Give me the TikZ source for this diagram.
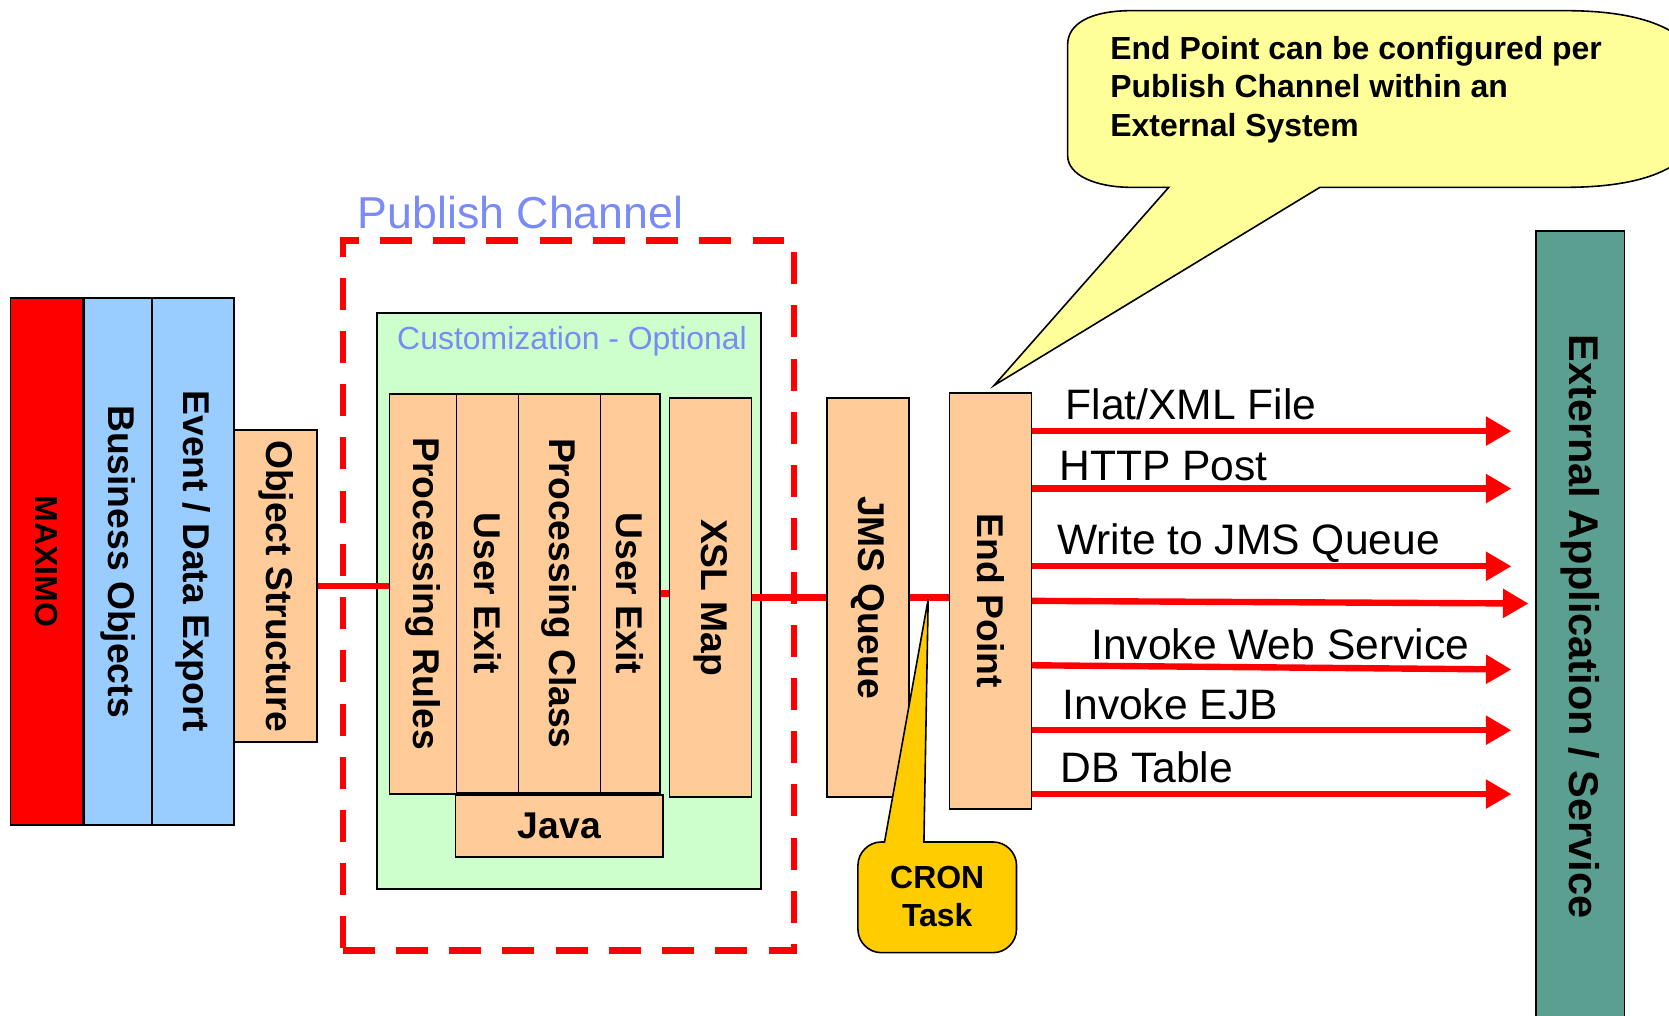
\documentclass[tikz,border=0pt]{standalone}
\usepackage{fontspec}
\setmainfont{Liberation Sans}
\usetikzlibrary{arrows.meta,calc}
\definecolor{peach}{HTML}{FFCC99}
\definecolor{lblue}{HTML}{99CCFF}
\definecolor{lgreen}{HTML}{CCFFCC}
\definecolor{tealbox}{HTML}{5A9F90}
\definecolor{bub}{HTML}{FFFF99}
\definecolor{gold}{HTML}{FFCC00}
\definecolor{pblue}{HTML}{7A8BF7}
\definecolor{pred}{HTML}{FF0000}
\tikzset{
  box/.style={draw=black, line width=1.5pt, inner sep=0pt, fill=peach},
  vfont/.style={font=\fontsize{35}{40}\selectfont\bfseries},
  link/.style={draw=pred, line width=6pt},
  arr/.style={draw=pred, line width=6pt, -{Triangle[length=24pt,width=26pt]}},
  lab/.style={anchor=base west, inner sep=0pt, font=\fontsize{40}{46}\selectfont},
  btext/.style={anchor=base west, inner sep=0pt, font=\fontsize{30}{36}\selectfont\bfseries},
  outline/.style={draw=black, line width=1.5pt},
}
\begin{document}
\begin{tikzpicture}[x=1pt,y=-1pt]
\useasboundingbox (0,0) rectangle (1568,954);
\clip (0,0) rectangle (1568,954);
\fill[white] (0,0) rectangle (1568,954);

% speech bubble
\draw[outline, fill=bub] (1098,176) -- (934,362) -- (1240,176) -- (1470,176)
  .. controls (1560,176) and (1605,150) .. (1605,93)
  .. controls (1605,36) and (1560,10) .. (1470,10) -- (1063,10)
  .. controls (1025,10) and (1003,22) .. (1003,42) -- (1003,146)
  .. controls (1003,165) and (1030,176) .. (1063,176) -- cycle;
\node[btext] (bt1) at (1043,56) {End Point can be configured per};
\node[btext] (bt2) at (1043,92) {Publish Channel within an};
\node[btext] (bt3) at (1043,128) {External System};

% left stack
\node[box, fill=pred, minimum width=68pt, minimum height=495pt, font=\fontsize{30}{34}\selectfont\bfseries] (maximo) at (44,527.5) {\rotatebox{-90}{MAXIMO}};
\node[box, fill=lblue, vfont, minimum width=64pt, minimum height=495pt] (bo) at (111,527.5) {\rotatebox{-90}{Business Objects}};
\node[box, fill=lblue, vfont, minimum width=77pt, minimum height=495pt] (ede) at (181.5,527.5) {\rotatebox{-90}{Event / Data Export}};
\node[box, vfont, minimum width=78pt, minimum height=293pt] (os) at (259,550.5) {\rotatebox{-90}{Object Structure}};

% publish channel
\node[draw=pred, line width=6pt, dash pattern=on 30pt off 20pt, minimum width=424pt, minimum height=667pt, inner sep=0pt] (pcbox) at (534,559.5) {};
\node[anchor=base west, inner sep=0pt, text=pblue, font=\fontsize{42}{48}\selectfont] (pctitle) at (336,215) {Publish Channel};

\node[draw=black, line width=1.5pt, fill=lgreen, minimum width=361pt, minimum height=541pt, inner sep=0pt] (cust) at (534.5,564.5) {};
\node[anchor=base west, inner sep=0pt, text=pblue, font=\fontsize{30}{34}\selectfont] (custtitle) at (373,328) {Customization - Optional};

\node[box, vfont, minimum width=63pt, minimum height=376pt] (pr) at (397.5,558) {\rotatebox{-90}{Processing Rules}};
\node[box, vfont, minimum width=58pt, minimum height=375pt] (ue1) at (458,557.5) {\rotatebox{-90}{User Exit}};
\node[box, vfont, minimum width=77pt, minimum height=375pt] (pcl) at (525.5,557.5) {\rotatebox{-90}{Processing Class}};
\node[box, vfont, minimum width=56pt, minimum height=375pt] (ue2) at (592,557.5) {\rotatebox{-90}{User Exit}};
\node[box, vfont, minimum width=195pt, minimum height=58pt] (java) at (525.5,776) {Java};
\node[box, vfont, minimum width=77pt, minimum height=375pt] (xsl) at (667.5,561.5) {\rotatebox{-90}{XSL Map}};

\node[box, vfont, minimum width=77pt, minimum height=375pt] (jms) at (815.5,561.5) {\rotatebox{-90}{JMS Queue}};
\node[box, vfont, minimum width=77pt, minimum height=391pt] (ep) at (930.5,564.5) {\rotatebox{-90}{End Point}};

\node[box, fill=tealbox, font=\fontsize{39}{44}\selectfont\bfseries, minimum width=83pt, minimum height=743pt] (ext) at (1484.5,588.5) {\rotatebox{-90}{External Application / Service}};

% connectors
\draw[link] (os.east) -- (os.east -| pr.west);
\draw[link] (ue2.east) -- (ue2.east -| xsl.west);
\draw[link] (xsl.east) -- (jms.west);
\draw[link] (jms.east) -- (jms.east -| ep.west);

% output arrows
\coordinate (a1) at (1420,405);
\coordinate (a2) at (1420,459);
\coordinate (a3) at (1420,532);
\coordinate (a4) at (1436,567);
\coordinate (a5) at (1420,629);
\coordinate (a6) at (1420,686);
\coordinate (a7) at (1420,746);
\draw[arr] (ep.east |- a1) -- (a1);
\draw[arr] (ep.east |- a2) -- (a2);
\draw[arr] (ep.east |- a3) -- (a3);
\draw[arr] (ep.east) -- (a4);
\draw[arr] (ep.east |- 0,625) -- (a5);
\draw[arr] (ep.east |- a6) -- (a6);
\draw[arr] (ep.east |- a7) -- (a7);

\node[lab] (l1) at (1001,394) {Flat/XML File};
\node[lab] (l2) at (995,451) {HTTP Post};
\node[lab] (l3) at (993,521) {Write to JMS Queue};
\node[lab] (l5) at (1025,620) {Invoke Web Service};
\node[lab] (l6) at (998,676) {Invoke EJB};
\node[lab] (l7) at (996,735) {DB Table};

% CRON callout
\draw[outline, fill=gold] (831,791) -- (872,563) -- (868,791) -- (933,791)
  .. controls (945,791) and (955,801) .. (955,813) -- (955,873)
  .. controls (955,885) and (945,895) .. (933,895) -- (828,895)
  .. controls (816,895) and (806,885) .. (806,873) -- (806,813)
  .. controls (806,801) and (816,791) .. (828,791) -- cycle;
\node[anchor=base, inner sep=0pt, font=\fontsize{30}{34}\selectfont\bfseries] (cron1) at (880.5,835) {CRON};
\node[anchor=base, inner sep=0pt, font=\fontsize{30}{34}\selectfont\bfseries] (cron2) at (880.5,870) {Task};
\end{tikzpicture}
\end{document}
